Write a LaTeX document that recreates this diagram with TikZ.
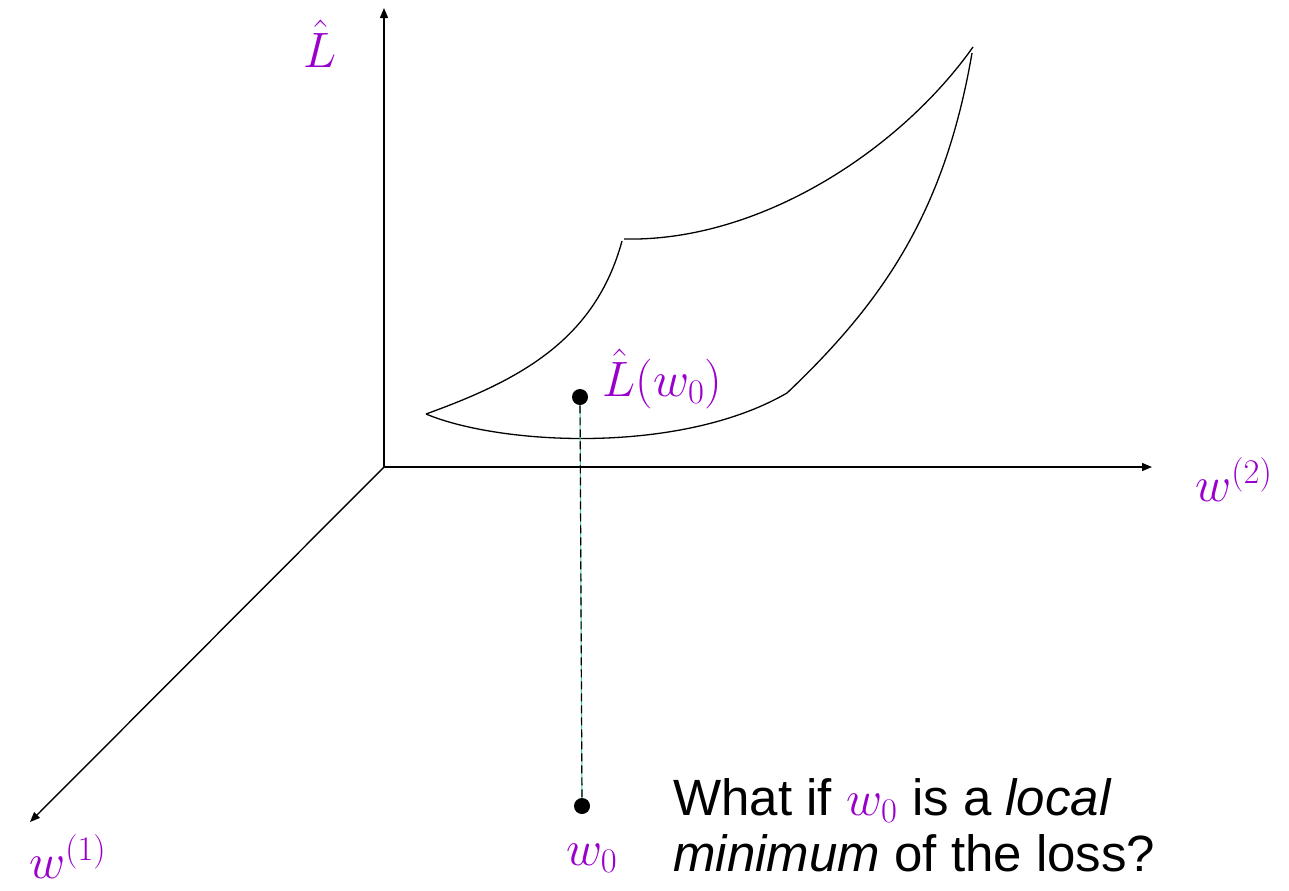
\documentclass[tikz,border=0pt]{standalone}
\usepackage{fontspec}
\setmainfont{Liberation Sans}
\usepackage{amsmath}
\usepackage{xcolor}
\usetikzlibrary{positioning,arrows.meta}
\definecolor{lpurple}{HTML}{9900CC}
\definecolor{lteal}{HTML}{40D0B0}

\begin{document}
\begin{tikzpicture}[x=0.5pt, y=-0.5pt,
  axis/.style={line width=0.7pt, -{Triangle[length=5pt, width=4pt]}},
  surf/.style={line width=0.65pt},
  lbl/.style={text=lpurple, font=\fontsize{27}{31}\selectfont, inner sep=0pt},
  dot/.style={circle, fill=black, inner sep=0pt, minimum size=8pt},
  txt/.style={font=\fontsize{25.5}{28}\selectfont, align=left, inner sep=0pt}]
\useasboundingbox (0,0) rectangle (1289,890);
% axes
\coordinate (o) at (384,467);
\coordinate (ztip) at (384,8);
\coordinate (ytip) at (1152,467);
\coordinate (xtip) at (30,822);
\draw[axis] (o) -- (ztip);
\draw[axis] (o) -- (ytip);
\draw[axis] (o) -- (xtip);
\node[lbl] (lz) at (320,44) {$\hat{L}$};
\node[lbl] (ly) at (1234,480) {$w^{(2)}$};
\node[lbl] (lx) at (68,857) {$w^{(1)}$};
% loss surface patch
\coordinate (fl) at (426,414);
\coordinate (fr) at (787,393);
\coordinate (bl) at (622,241);
\coordinate (bl2) at (624,239);
\coordinate (br) at (973,47);
\coordinate (br2) at (972,53);
\draw[surf] (fl) .. controls (500,445) and (680,455) .. (fr);
\draw[surf] (fl) .. controls (520,380) and (595,340) .. (bl);
\draw[surf] (bl2) .. controls (760,242) and (900,150) .. (br);
\draw[surf] (br2) .. controls (945,210) and (885,300) .. (fr);
% point and its projection
\node[dot] (p) at (580,397) {};
\node[dot] (q) at (582,806) {};
\draw[lteal, line width=0.5pt] (p) -- (q);
\draw[dashed, line width=0.6pt, dash pattern=on 4pt off 2pt] (p) -- (q);
\node[lbl, anchor=west] (lp) at (602,379) {$\hat{L}(w_0)$};
\node[lbl] (lq) at (592,858) {$w_0$};
\node[txt, anchor=north west] (note) at (673,778)
  {What if \textcolor{lpurple}{$w_0$} is a \textit{local}\\\textit{minimum} of the loss?};
\end{tikzpicture}
\end{document}
